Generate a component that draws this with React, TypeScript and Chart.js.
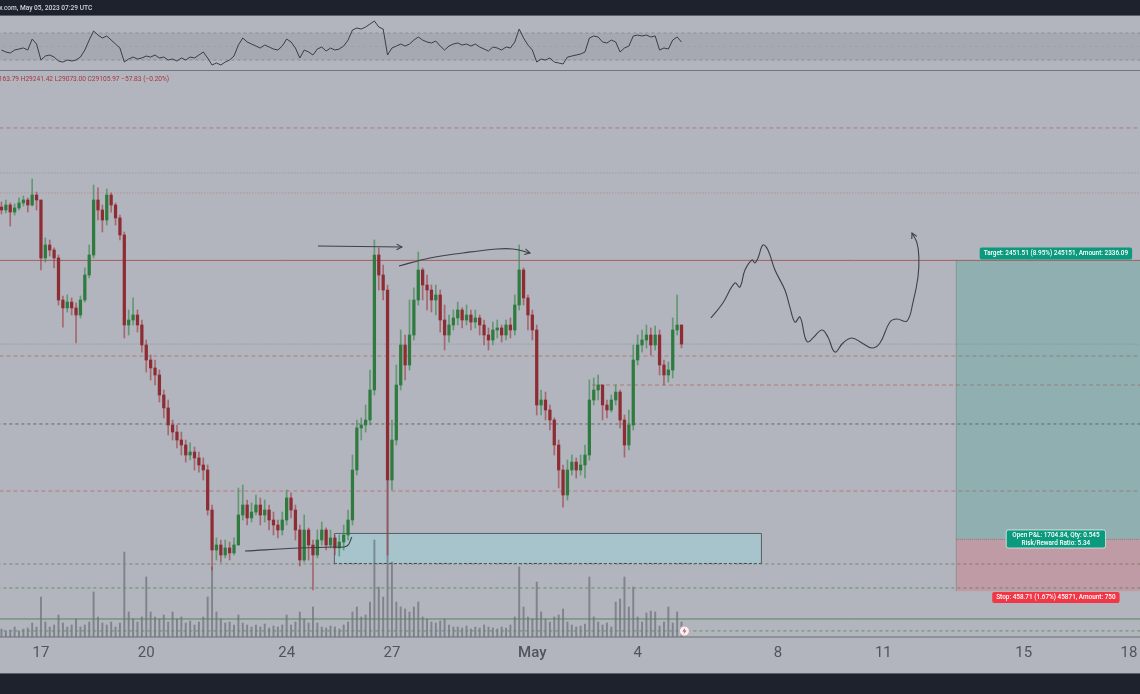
import React, { useEffect, useRef } from "react";
import { Chart, registerables } from "chart.js";

Chart.register(...registerables);

// ---------- DATA (BTC, 3h candles, hours from Apr 17 00:00) ----------
const START_HOUR = -27;
const STEP_HOURS = 3;
const FIRST_OPEN = 30312;

const closes = [
  30286, 30330, 30268, 30304, 30348, 30374, 30330, 30418, 30374, 29864,
  29978, 29934, 29864, 29494, 29424, 29476, 29424, 29362, 29494, 29714,
  29890, 30374, 30286, 30198, 30418, 30330, 30216, 30066, 29274, 29318,
  29362, 29274, 29098, 28966, 28896, 28834, 28658, 28544, 28394, 28332,
  28262, 28218, 28130, 28156, 28104, 28042, 27998, 27646, 27294, 27338,
  27250, 27312, 27268, 27338, 27602, 27690, 27576, 27628, 27690, 27602,
  27646, 27558, 27514, 27470, 27558, 27752, 27646, 27470, 27206, 27470,
  27338, 27250, 27382, 27470, 27338, 27400, 27312, 27364, 27426, 27558,
  27998, 28368, 28394, 28438, 28702, 29890, 29714, 29582, 27910, 28262,
  28746, 29098, 28922, 29186, 29494, 29758, 29626, 29582, 29494, 29538,
  29318, 29186, 29274, 29336, 29406, 29318, 29362, 29300, 29336, 29274,
  29186, 29142, 29230, 29248, 29186, 29274, 29230, 29450, 29758, 29512,
  29362, 29230, 28570, 28614, 28526, 28438, 28218, 27998, 27778, 27998,
  28068, 27998, 28042, 28130, 28614, 28702, 28746, 28570, 28526, 28614,
  28684, 28438, 28218, 28394, 28966, 29098, 29142, 29186, 29098, 29186,
  28922, 28834, 28878, 29230, 29274, 29106,
];

const highs = [
  30356, 30374, 30348, 30339, 30392, 30409, 30392, 30559, 30444, 30374,
  30040, 30022, 29952, 29890, 29529, 29538, 29512, 29468, 29529, 29776,
  29978, 30506, 30480, 30330, 30471, 30436, 30348, 30242, 30092, 29406,
  29512, 29406, 29318, 29142, 29010, 28966, 28878, 28702, 28614, 28438,
  28394, 28332, 28262, 28236, 28200, 28156, 28104, 28042, 27690, 27400,
  27382, 27382, 27364, 27400, 27840, 27866, 27734, 27708, 27778, 27752,
  27734, 27690, 27628, 27558, 27628, 27822, 27796, 27690, 27514, 27602,
  27488, 27382, 27470, 27540, 27488, 27470, 27426, 27426, 27514, 27646,
  28130, 28438, 28456, 28570, 28878, 30022, 29952, 29802, 29626, 28438,
  28922, 29230, 29186, 29494, 29600, 29916, 29776, 29714, 29626, 29626,
  29582, 29450, 29362, 29406, 29476, 29424, 29450, 29406, 29406, 29362,
  29318, 29248, 29300, 29318, 29274, 29318, 29336, 29538, 29978, 29776,
  29538, 29406, 29274, 28702, 28684, 28570, 28456, 28262, 28042, 28086,
  28130, 28104, 28130, 28218, 28790, 28808, 28834, 28746, 28614, 28658,
  28746, 28702, 28482, 28526, 29098, 29186, 29230, 29274, 29248, 29265,
  29230, 28966, 28948, 29336, 29538, 29241,
];

const lows = [
  30251, 30260, 30145, 30242, 30286, 30321, 30268, 30321, 30286, 29758,
  29828, 29881, 29776, 29450, 29256, 29388, 29362, 29116, 29336, 29476,
  29688, 29864, 30198, 30092, 30154, 30268, 30154, 30022, 29160, 29186,
  29274, 29212, 29036, 28860, 28790, 28746, 28596, 28456, 28306, 28262,
  28192, 28130, 28068, 28086, 27998, 27980, 27910, 27602, 27118, 27206,
  27188, 27224, 27206, 27250, 27338, 27558, 27514, 27540, 27602, 27514,
  27540, 27470, 27426, 27400, 27426, 27514, 27576, 27382, 27153, 27188,
  27206, 26942, 27224, 27338, 27294, 27312, 27250, 27241, 27294, 27382,
  27514, 27954, 28262, 28332, 28394, 28658, 29582, 29494, 27250, 27822,
  28218, 28702, 28790, 28878, 29142, 29450, 29494, 29406, 29388, 29362,
  29212, 29054, 29124, 29230, 29274, 29248, 29274, 29230, 29248, 29186,
  29098, 29054, 29098, 29160, 29124, 29142, 29160, 29186, 29406, 29450,
  29230, 29142, 28482, 28482, 28438, 28350, 28130, 27840, 27672, 27734,
  27954, 27928, 27954, 27928, 28086, 28570, 28614, 28438, 28456, 28508,
  28570, 28368, 28112, 28174, 28350, 28922, 29036, 29072, 29010, 29054,
  28834, 28746, 28772, 28808, 29186, 29073,
];

const volumes = [
  800, 600, 700, 1000, 600, 800, 900, 1400, 1000, 4000,
  1500, 1000, 1200, 2200, 1400, 1000, 1200, 1800, 1000, 1200,
  1500, 4500, 2000, 1400, 1200, 1500, 1000, 1400, 8500, 2500,
  1800, 1500, 2000, 6000, 2500, 2000, 1800, 2200, 1500, 2500,
  1800, 2000, 1400, 1600, 1200, 1500, 2000, 4000, 7000, 2500,
  1800, 1400, 1500, 1200, 2200, 1400, 1200, 1000, 1200, 1000,
  1300, 900, 1100, 1000, 1200, 2200, 1200, 1500, 2500, 1800,
  1400, 3000, 1400, 1000, 900, 1100, 1000, 800, 1200, 1500,
  2500, 3000, 2000, 2200, 3500, 9700, 5000, 4000, 20000, 7500,
  3500, 3000, 2800, 2500, 3000, 3500, 2000, 1800, 1500, 1400,
  1600, 1800, 1200, 1000, 1000, 900, 1100, 800, 1000, 900,
  1200, 1000, 900, 800, 1000, 900, 1200, 2000, 7000, 3000,
  2000, 1800, 5500, 2500, 1800, 1500, 2000, 2200, 2800, 1500,
  1200, 1000, 1100, 1300, 6000, 2000, 1500, 1200, 1400, 1000,
  3500, 3800, 6000, 3000, 5000, 2000, 1500, 2400, 2600, 2500,
  1100, 1500, 3000, 1400, 2500, 1500,
];

const rsiValues = [
  44.8, 41.9, 40.4, 44.8, 46.3, 47.8, 44.8, 61.1, 53.7, 30.0,
  35.9, 37.4, 34.4, 28.5, 27.0, 30.0, 28.5, 30.0, 34.4, 44.8,
  59.6, 73.0, 67.0, 62.6, 65.6, 59.6, 53.7, 47.8, 27.0, 31.5,
  34.4, 31.5, 33.0, 35.9, 34.4, 37.4, 33.0, 34.4, 30.0, 31.5,
  28.5, 33.0, 30.0, 34.4, 33.0, 37.4, 41.9, 33.0, 22.6, 25.6,
  22.6, 27.0, 30.0, 35.9, 52.2, 62.6, 56.7, 53.7, 50.7, 47.8,
  52.2, 49.3, 46.3, 44.8, 50.7, 61.1, 56.7, 47.8, 33.0, 44.8,
  41.9, 37.4, 46.3, 49.3, 43.3, 47.8, 44.8, 46.3, 50.7, 59.6,
  74.4, 77.4, 75.9, 78.9, 83.3, 87.8, 78.9, 75.9, 37.4, 47.8,
  50.7, 53.7, 50.7, 53.7, 59.6, 64.1, 59.6, 56.7, 55.2, 58.1,
  50.7, 44.8, 50.7, 53.7, 55.2, 52.2, 53.7, 50.7, 53.7, 49.3,
  46.3, 43.3, 49.3, 47.8, 44.8, 49.3, 47.8, 56.7, 75.9, 62.6,
  52.2, 44.8, 27.0, 31.5, 30.0, 33.0, 27.0, 25.6, 24.1, 34.4,
  35.9, 37.4, 38.9, 41.9, 62.6, 65.6, 64.1, 56.7, 55.2, 59.6,
  56.7, 41.9, 47.8, 50.7, 65.6, 67.0, 65.6, 67.0, 64.1, 65.6,
  44.8, 47.8, 46.3, 59.6, 64.1, 56.7,
];

const tickHours = [0, 72, 168, 240, 336, 408, 504, 576, 672, 744];
const tickLabels = ["17", "20", "24", "27", "May", "4", "8", "11", "15", "18"];

// horizontal levels (price)
const redDashedLevels = [31008, 29001, 27813];
const redPartialLevel = 28746;
const redPartialStart = 376.8;
const greyDottedLevels = [30612];
const redDottedLevels = [30436];
const solidRedLevel = 29842.5;
const darkDashedLevels = [28403];
const greyGreenDashedLevels = [27171];
const greenDashedLevels = [26960, 26582];
const greenSolidLevels = [26687];
const rsiLevels = [70, 50, 30];

// zone rectangle
const zoneHours = [200.3, 493.0];
const zonePrices = [27444, 27171];

// long position
const ENTRY = 27391.0;
const TARGET = 29842.51;
const STOP = 26932.29;
const positionHours = [625.6, 762.4];
const targetText = "Target: 2451.51 (8.95%) 245151, Amount: 2336.09";
const pnlText = ["Open P&L: 1704.84, Qty: 0.545", "Risk/Reward Ratio: 5.34"];
const stopText = "Stop: 458.71 (1.67%) 45871, Amount: 750";

// hand drawings
const arrowAHours = [189.4, 246.8];
const arrowAPrices = [29969, 29960];
const arcBHours = [244.8, 266.0, 288.5, 311.8, 322.7, 334.4];
const arcBPrices = [29793, 29864, 29908, 29943, 29943, 29908];
const hookCHours = [139.5, 177.1, 199.7, 209.2, 212.6];
const hookCPrices = [27285, 27312, 27320, 27329, 27408];
const pathDHours = [
  458.1, 466.3, 474.5, 477.9, 481.4, 486.2, 488.2, 490.3, 493.7, 497.1,
  501.9, 508.7, 512.1, 515.6, 519.0, 522.4, 524.4, 527.9, 534.0, 538.1,
  542.9, 548.4, 554.5, 561.4, 568.2, 573.7, 580.5, 585.3, 592.1, 596.2,
  599.7, 600.3, 599.0, 595.6,
];
const pathDPrices = [
  29336, 29468, 29644, 29608, 29758, 29846, 29820, 29864, 29978, 29934,
  29758, 29582, 29432, 29300, 29344, 29168, 29124, 29160, 29230, 29168,
  29036, 29116, 29160, 29116, 29072, 29116, 29300, 29327, 29309, 29468,
  29696, 29872, 29996, 30084,
];

const eventHour = 440;
const eventPrice = 26581;

const titleText = "TradingView.com, May 05, 2023 07:29 UTC";
const infoText = "O29163.79 H29241.42 L29073.00 C29105.97 \u221257.83 (\u22120.20%)";

// ---------- derived ----------
const hours = closes.map((_, i) => START_HOUR + i * STEP_HOURS);
const opens = closes.map((_, i) => (i === 0 ? FIRST_OPEN : closes[i - 1]));
const isUp = closes.map((c, i) => c >= opens[i]);

const BG = "#b2b5bd";
const X_MIN = -28;
const X_MAX = 751.5;

function hLine(label: string, price: number, color: string, dash: number[], axis = "y", start = X_MIN - 10, width = 1) {
  return {
    type: "line" as const,
    label,
    yAxisID: axis,
    data: [
      { x: start, y: price },
      { x: 800, y: price },
    ],
    borderColor: color,
    borderDash: dash,
    borderWidth: width,
    pointRadius: 0,
    fill: false,
    order: 6,
  };
}

function drawLine(label: string, hs: number[], ps: number[]) {
  return {
    type: "line" as const,
    label,
    yAxisID: "y",
    data: hs.map((h, i) => ({ x: h, y: ps[i] })),
    borderColor: "#3e4148",
    borderWidth: 1.1,
    pointRadius: 0,
    tension: 0.4,
    fill: false,
    order: 1,
  };
}

function roundRect(ctx: CanvasRenderingContext2D, x: number, y: number, w: number, h: number, r: number) {
  ctx.beginPath();
  ctx.moveTo(x + r, y);
  ctx.lineTo(x + w - r, y);
  ctx.quadraticCurveTo(x + w, y, x + w, y + r);
  ctx.lineTo(x + w, y + h - r);
  ctx.quadraticCurveTo(x + w, y + h, x + w - r, y + h);
  ctx.lineTo(x + r, y + h);
  ctx.quadraticCurveTo(x, y + h, x, y + h - r);
  ctx.lineTo(x, y + r);
  ctx.quadraticCurveTo(x, y, x + r, y);
  ctx.closePath();
}

function arrowHead(ctx: CanvasRenderingContext2D, fx: number, fy: number, tx: number, ty: number) {
  const ang = Math.atan2(ty - fy, tx - fx);
  const len = 6;
  ctx.beginPath();
  ctx.moveTo(tx - len * Math.cos(ang - 0.5), ty - len * Math.sin(ang - 0.5));
  ctx.lineTo(tx, ty);
  ctx.lineTo(tx - len * Math.cos(ang + 0.5), ty - len * Math.sin(ang + 0.5));
  ctx.stroke();
}

const decorPlugin = {
  id: "tvDecor",
  beforeDraw(chart: any) {
    const { ctx, width, height } = chart;
    ctx.save();
    ctx.fillStyle = BG;
    ctx.fillRect(0, 0, width, height);
    ctx.restore();
  },
  beforeDatasetsDraw(chart: any) {
    const { ctx, chartArea: a, scales } = chart;
    const r = scales.yRsi;
    ctx.save();
    const t = r.getPixelForValue(70);
    const b = r.getPixelForValue(30);
    ctx.fillStyle = "rgba(110,113,124,0.17)";
    ctx.fillRect(a.left, t, a.right - a.left, b - t);
    ctx.strokeStyle = "#72757d";
    ctx.lineWidth = 1;
    ctx.beginPath();
    ctx.moveTo(a.left, 70.5);
    ctx.lineTo(a.right, 70.5);
    ctx.stroke();
    const x1 = scales.x.getPixelForValue(zoneHours[0]);
    const x2 = scales.x.getPixelForValue(zoneHours[1]);
    const y1 = scales.y.getPixelForValue(zonePrices[0]);
    const y2 = scales.y.getPixelForValue(zonePrices[1]);
    ctx.fillStyle = "#a7c4cc";
    ctx.fillRect(x1, y1, x2 - x1, y2 - y1);
    ctx.strokeStyle = "#5a5d64";
    ctx.beginPath();
    ctx.moveTo(x1 + 0.5, y2);
    ctx.lineTo(x1 + 0.5, y1 + 0.5);
    ctx.lineTo(x2 - 0.5, y1 + 0.5);
    ctx.lineTo(x2 - 0.5, y2);
    ctx.stroke();
    ctx.setLineDash([3, 2]);
    ctx.strokeStyle = "#3b3e44";
    ctx.beginPath();
    ctx.moveTo(x1, y2 - 0.5);
    ctx.lineTo(x2, y2 - 0.5);
    ctx.stroke();
    ctx.restore();
  },
  afterDatasetsDraw(chart: any) {
    const { ctx, chartArea: a, scales } = chart;
    const xs = scales.x;
    const ys = scales.y;
    ctx.save();
    const px1 = xs.getPixelForValue(positionHours[0]);
    const px2 = xs.getPixelForValue(positionHours[1]);
    const yT = ys.getPixelForValue(TARGET);
    const yE = ys.getPixelForValue(ENTRY);
    const yS = ys.getPixelForValue(STOP);
    ctx.save();
    ctx.beginPath();
    ctx.rect(a.left, a.top, a.right - a.left, a.bottom - a.top);
    ctx.clip();
    ctx.fillStyle = "rgba(8,153,129,0.2)";
    ctx.fillRect(px1, yT, px2 - px1, yE - yT);
    ctx.fillStyle = "rgba(242,54,69,0.2)";
    ctx.fillRect(px1, yE, px2 - px1, yS - yE);
    ctx.strokeStyle = "rgba(90,110,110,0.6)";
    ctx.setLineDash([1, 1]);
    ctx.lineWidth = 1;
    ctx.beginPath();
    ctx.moveTo(px1 + 0.5, yT);
    ctx.lineTo(px1 + 0.5, yS);
    ctx.stroke();
    ctx.strokeStyle = "rgba(120,80,85,0.5)";
    ctx.beginPath();
    ctx.moveTo(px1, yE + 0.5);
    ctx.lineTo(px2, yE + 0.5);
    ctx.stroke();
    ctx.restore();

    const cx = (px1 + px2) / 2;
    ctx.font = "500 6.4px Roboto";
    ctx.textAlign = "center";
    ctx.textBaseline = "middle";
    let w = ctx.measureText(targetText).width + 8;
    ctx.fillStyle = "#0b9a7e";
    roundRect(ctx, cx - w / 2, yT - 13, w, 12, 2);
    ctx.fill();
    ctx.fillStyle = "#ffffff";
    ctx.fillText(targetText, cx, yT - 6.8);
    w = Math.max(ctx.measureText(pnlText[0]).width, ctx.measureText(pnlText[1]).width) + 12;
    ctx.fillStyle = "#0b9a7e";
    roundRect(ctx, cx - w / 2, yE - 9, w, 18, 2);
    ctx.fill();
    ctx.strokeStyle = "rgba(255,255,255,0.8)";
    ctx.lineWidth = 0.8;
    ctx.stroke();
    ctx.fillStyle = "#ffffff";
    ctx.fillText(pnlText[0], cx, yE - 4);
    ctx.fillText(pnlText[1], cx, yE + 4);
    w = ctx.measureText(stopText).width + 8;
    ctx.fillStyle = "#f23645";
    roundRect(ctx, cx - w / 2, yS + 1, w, 11, 2);
    ctx.fill();
    ctx.fillStyle = "#ffffff";
    ctx.fillText(stopText, cx, yS + 6.7);

    ctx.strokeStyle = "#3e4148";
    ctx.lineWidth = 1.1;
    ctx.setLineDash([]);
    chart.data.datasets.forEach((ds: any, i: number) => {
      if (ds.label === "arrowA" || ds.label === "arcB" || ds.label === "pathD") {
        const pts = chart.getDatasetMeta(i).data;
        const p = pts[pts.length - 1];
        const q = pts[pts.length - 2];
        arrowHead(ctx, q.x, q.y, p.x, p.y);
      }
    });

    const ex = xs.getPixelForValue(eventHour);
    const ey = ys.getPixelForValue(eventPrice);
    ctx.beginPath();
    ctx.arc(ex, ey, 5, 0, Math.PI * 2);
    ctx.fillStyle = "#f3f3f5";
    ctx.fill();
    ctx.strokeStyle = "#c9a7ab";
    ctx.lineWidth = 1;
    ctx.stroke();
    ctx.fillStyle = "#c0505a";
    ctx.beginPath();
    ctx.moveTo(ex + 1, ey - 3.5);
    ctx.lineTo(ex - 2, ey + 0.5);
    ctx.lineTo(ex, ey + 0.5);
    ctx.lineTo(ex - 1, ey + 3.5);
    ctx.lineTo(ex + 2, ey - 0.5);
    ctx.lineTo(ex, ey - 0.5);
    ctx.closePath();
    ctx.fill();
    ctx.restore();
  },
  afterDraw(chart: any) {
    const { ctx, width, height } = chart;
    ctx.save();
    ctx.fillStyle = "#1e222d";
    ctx.fillRect(0, 0, width, 15);
    ctx.fillRect(0, 674, width, height - 674);
    ctx.fillStyle = "#5d606b";
    ctx.fillRect(0, 15, width, 1);
    ctx.fillRect(0, 673, width, 1);
    ctx.font = "500 6.6px Roboto";
    ctx.textBaseline = "middle";
    ctx.textAlign = "left";
    ctx.fillStyle = "#d1d4dc";
    const off = ctx.measureText("TradingView").width;
    ctx.fillText(titleText, 2.5 - off, 8);
    ctx.font = "6.6px Roboto";
    ctx.fillStyle = "#a8363d";
    const off2 = ctx.measureText("O291").width;
    ctx.fillText(infoText, 2.5 - off2, 79);
    const a = chart.chartArea;
    ctx.fillStyle = "#6c6f77";
    ctx.fillRect(0, a.bottom - 0.5, width, 1);
    ctx.restore();
  },
};

export default function App() {
  const ref = useRef<HTMLCanvasElement>(null);
  useEffect(() => {
    const canvas = ref.current;
    if (!canvas) return;
    document.body.style.margin = "0";
    const chart = new Chart(canvas, {
      type: "bar",
      data: {
        datasets: [
          {
            type: "bar",
            label: "volume",
            yAxisID: "yVol",
            data: hours.map((h, i) => ({ x: h, y: volumes[i] })),
            backgroundColor: "rgba(95,98,106,0.6)",
            barThickness: 1.3,
            grouped: false,
            order: 9,
          } as any,
          hLine("r1", redDashedLevels[0], "#b4777b", [4, 3]),
          hLine("r2", redDashedLevels[1], "#b4777b", [4, 3]),
          hLine("r3", redDashedLevels[2], "#b4777b", [4, 3]),
          hLine("r4", redPartialLevel, "#b4777b", [4, 3], "y", redPartialStart),
          hLine("g1", greyDottedLevels[0], "#8e9199", [1, 2]),
          hLine("cur", closes[closes.length - 1], "#878a92", [1, 2]),
          hLine("rd1", redDottedLevels[0], "#b58084", [1, 2]),
          hLine("solid", solidRedLevel, "#a85c61", []),
          hLine("dk1", darkDashedLevels[0], "#62656d", [3, 3]),
          hLine("gg1", greyGreenDashedLevels[0], "#6d8a74", [3, 3]),
          hLine("gd1", greenDashedLevels[0], "#5f9169", [3, 3]),
          hLine("gd2", greenDashedLevels[1], "#5f9169", [3, 3]),
          hLine("gs1", greenSolidLevels[0], "#5c7f60", []),
          hLine("rsi70", rsiLevels[0], "#8b8e96", [3, 3], "yRsi"),
          hLine("rsi50", rsiLevels[1], "#9a9da5", [2, 4], "yRsi"),
          hLine("rsi30", rsiLevels[2], "#8b8e96", [3, 3], "yRsi"),
          {
            type: "bar",
            label: "wicks",
            yAxisID: "y",
            data: hours.map((h, i) => ({
              x: h,
              y: [Math.min(lows[i], opens[i], closes[i]), Math.max(highs[i], opens[i], closes[i])],
            })),
            backgroundColor: isUp.map((u) => (u ? "rgba(64,140,84,0.7)" : "rgba(160,62,70,0.65)")),
            barThickness: 1,
            grouped: false,
            order: 4,
          } as any,
          {
            type: "bar",
            label: "bodies",
            yAxisID: "y",
            data: hours.map((h, i) => ({ x: h, y: [opens[i], closes[i]] })),
            backgroundColor: isUp.map((u) => (u ? "#2f7b3f" : "#8e2c33")),
            barThickness: 2.6,
            minBarLength: 1,
            grouped: false,
            order: 3,
          } as any,
          {
            type: "line",
            label: "rsi",
            yAxisID: "yRsi",
            data: hours.map((h, i) => ({ x: h, y: rsiValues[i] })),
            borderColor: "#3b3e46",
            borderWidth: 1,
            pointRadius: 0,
            tension: 0,
            fill: false,
            order: 2,
          } as any,
          drawLine("arrowA", arrowAHours, arrowAPrices),
          drawLine("arcB", arcBHours, arcBPrices),
          drawLine("hookC", hookCHours, hookCPrices),
          drawLine("pathD", pathDHours, pathDPrices),
        ] as any,
      },
      options: {
        responsive: false,
        animation: false,
        events: [],
        layout: { padding: { top: 15, bottom: 20, left: 0, right: 0 } },
        plugins: { legend: { display: false }, tooltip: { enabled: false } },
        scales: {
          x: {
            type: "linear",
            min: X_MIN,
            max: X_MAX,
            offset: false,
            grid: { display: false, drawTicks: false },
            border: { display: false },
            ticks: {
              autoSkip: false,
              maxRotation: 0,
              padding: 7,
              color: "#51545d",
              font: (c: any) => ({
                family: "Roboto",
                size: 15,
                weight: c.tick && c.tick.value === 336 ? "500" : "normal",
              }),
              callback: (v: any) => {
                const k = tickHours.indexOf(Number(v));
                return k >= 0 ? tickLabels[k] : "";
              },
            },
            afterBuildTicks: (s: any) => {
              s.ticks = tickHours.map((v) => ({ value: v }));
            },
            afterFit: (s: any) => {
              s.height = 37;
              s.paddingLeft = 0;
              s.paddingRight = 0;
            },
          } as any,
          y: { type: "linear", display: false, min: 26528.4, max: 32002 },
          yVol: { type: "linear", display: false, min: 0, max: 62200 },
          yRsi: { type: "linear", display: false, min: -824.8, max: 96.7 },
        },
      },
      plugins: [decorPlugin],
    } as any);
    return () => chart.destroy();
  }, []);
  return (
    <div style={{ position: "fixed", left: 0, top: 0, width: 1140, height: 694, background: BG }}>
      <canvas ref={ref} width={1140} height={694} style={{ width: 1140, height: 694, display: "block" }} />
    </div>
  );
}
